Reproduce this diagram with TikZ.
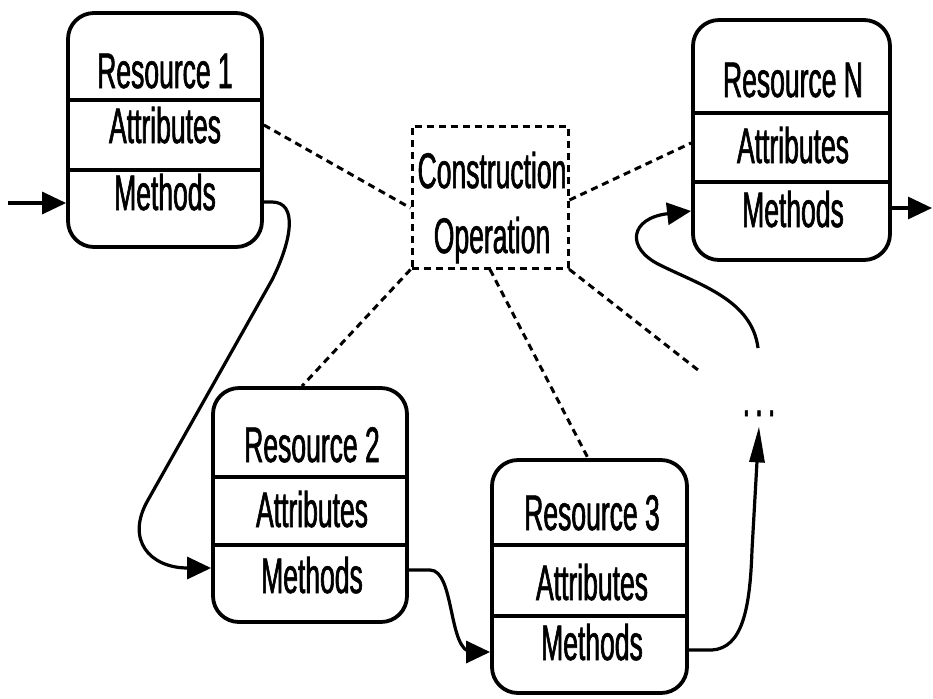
\documentclass[tikz,border=0pt]{standalone}
\usepackage{fontspec}
\setmainfont[FakeStretch=0.53,FakeBold=1.2]{Liberation Sans}
\usetikzlibrary{arrows.meta,fit}
\begin{document}
\begin{tikzpicture}[x=0.5pt,y=-0.5pt,
  resbox/.style={draw,line width=1.9pt,rounded corners=13pt,inner sep=0pt},
  opbox/.style={draw,line width=1.5pt,dash pattern=on 3.5pt off 2.5pt,inner sep=0pt},
  divider/.style={line width=1.6pt},
  lbl/.style={anchor=base,inner sep=0pt,font=\fontsize{25}{30}\selectfont},
  link/.style={line width=1.5pt,dash pattern=on 3.5pt off 2.5pt},
  flow/.style={line width=1.6pt,-{Triangle[length=12pt,width=11pt]}},
  upflow/.style={line width=1.6pt,-{Triangle[length=18pt,width=7.5pt]}},
]
\useasboundingbox (0,0) rectangle (933,698);

% Resource 1
\node[resbox,fit={(68,13) (262,247)}] (r1) {};
\draw[divider] (68,100) -- (262,100);
\draw[divider] (68,170) -- (262,170);
\node[lbl] (r1t) at (165,88) {Resource 1};
\node[lbl] (r1a) at (165,143) {Attributes};
\node[lbl] (r1m) at (165,210) {Methods};

% Resource 2
\node[resbox,fit={(213,388) (407,622)}] (r2) {};
\draw[divider] (213,477) -- (407,477);
\draw[divider] (213,545) -- (407,545);
\node[lbl] (r2t) at (312,462) {Resource 2};
\node[lbl] (r2a) at (312,527) {Attributes};
\node[lbl] (r2m) at (312,593) {Methods};

% Resource 3
\node[resbox,fit={(492,460) (687,693)}] (r3) {};
\draw[divider] (492,545) -- (687,545);
\draw[divider] (492,616) -- (687,616);
\node[lbl] (r3t) at (592,530) {Resource 3};
\node[lbl] (r3a) at (592,600) {Attributes};
\node[lbl] (r3m) at (592,660) {Methods};

% Resource N
\node[resbox,fit={(693,20) (890,260)}] (rN) {};
\draw[divider] (693,113) -- (890,113);
\draw[divider] (693,182) -- (890,182);
\node[lbl] (rNt) at (793,97) {Resource N};
\node[lbl] (rNa) at (793,163) {Attributes};
\node[lbl] (rNm) at (793,227) {Methods};

% Construction operation
\node[opbox,fit={(412,126) (568,268)}] (op) {};
\node[lbl] (opa) at (492,188) {Construction};
\node[lbl] (opb) at (492,253) {Operation};

% Continuation dots
\node[anchor=base,inner xsep=0pt,inner ysep=5pt,font=\fontsize{25}{30}\selectfont] (dots) at (759,416) {.\kern2.6pt.\kern2.6pt.};

% Free ends
\coordinate (in) at (8,203);
\coordinate (out) at (932,208);
\coordinate (gap) at (698,370);
\coordinate (fstart) at (758,348);

% Links to the construction operation
\draw[link] (r1.east |- 0,125) -- (op.west |- 0,208);
\draw[link] (op.east |- 0,200) -- (rN.west |- 0,143);
\draw[link] (op.south west) -- (r2.north -| 302,0);
\draw[link] (op.south -| 490,0) -- (r3.north -| 588,0);
\draw[link] (op.south east) -- (gap);

% Flow between the resources
\draw[flow] (in) -- (r1.west |- 0,203);
\draw[flow] (rN.east |- 0,208) -- (out);
\draw[flow] (r1.east |- 0,202) -- (272,202) .. controls (298,202) and (292,240) .. (272,280)
  -- (148,500) .. controls (125,540) and (150,568) .. (r2.west |- 0,568);
\draw[flow] (r2.east |- 0,570) -- (430,570) .. controls (455,570) and (448,652) .. (472,652)
  -- (r3.west |- 0,652);
\draw[upflow] (r3.east |- 0,650) -- (712,650) .. controls (742,648) and (750,610) .. (752,550)
  -- (dots.south);
\draw[flow] (fstart) .. controls (752,300) and (700,285) .. (660,265)
  .. controls (625,248) and (630,218) .. (rN.west |- 0,211);
\end{tikzpicture}
\end{document}
